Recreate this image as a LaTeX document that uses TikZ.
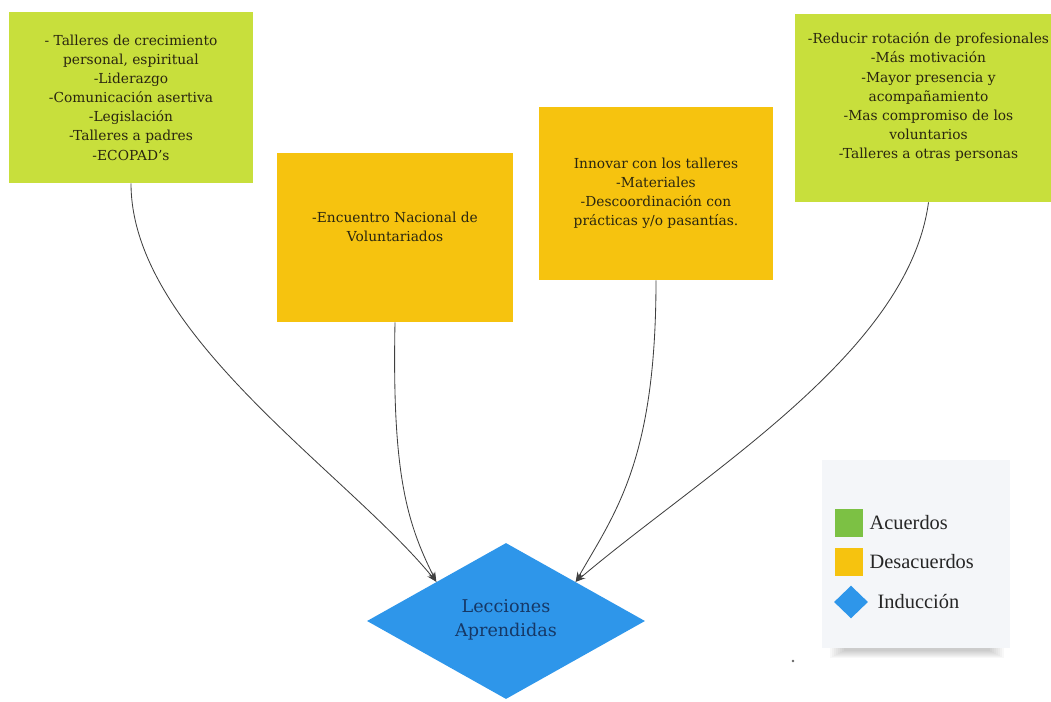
\documentclass[tikz,border=0pt]{standalone}
\usepackage{fontspec}
\setmainfont{DejaVu Serif}
\newfontfamily\leyfont{Liberation Serif}
\usetikzlibrary{shapes.geometric,positioning,arrows.meta}

\definecolor{verdelima}{HTML}{C8DF3C}
\definecolor{naranja}{HTML}{F6C30F}
\definecolor{azul}{HTML}{2E96EA}
\definecolor{verdeley}{HTML}{7CC144}
\definecolor{tarjeta}{HTML}{F4F6F9}
\definecolor{tinta}{HTML}{2A2610}
\definecolor{azultinta}{HTML}{163866}

\tikzset{
  caja/.style={rectangle, draw=none, align=center, text=tinta,
    font=\fontsize{9.8}{13.6}\selectfont},
  acuerdo/.style={caja, fill=verdelima},
  desacuerdo/.style={caja, fill=naranja},
  induccion/.style={diamond, fill=azul, draw=none, inner sep=0pt, align=center,
    text=azultinta, font=\fontsize{12.5}{17}\selectfont},
  flecha/.style={draw=black!75, line width=0.6pt, -{Stealth[length=7pt,width=5pt]}},
  leytext/.style={font=\leyfont\fontsize{14.5}{16}\selectfont, text=black!85, inner sep=1pt},
  leycuadro/.style={rectangle, minimum width=0.7cm, minimum height=0.72cm, inner sep=0pt}
}

\begin{document}
\begin{tikzpicture}[x=0.025cm, y=-0.025cm]
\useasboundingbox (0,0) rectangle (1051,702);

% cajas de arriba
\node[acuerdo, minimum width=6.1cm, minimum height=4.275cm] (talleres) at (131,97.5)
  {- Talleres de crecimiento\\ personal, espiritual\\ -Liderazgo\\ -Comunicaci\'on asertiva\\
   -Legislaci\'on\\ -Talleres a padres\\ -ECOPAD's};
\node[desacuerdo, minimum width=5.9cm, minimum height=4.225cm] (encuentro) at (395,237.5)
  {-Encuentro Nacional de\\ Voluntariados\\[2pt]};
\node[desacuerdo, minimum width=5.85cm, minimum height=4.325cm] (innovar) at (656,193.5)
  {Innovar con los talleres\\ -Materiales\\ -Descoordinaci\'on con\\ pr\'acticas y/o pasant\'ias.};
\node[acuerdo, minimum width=6.675cm, minimum height=4.7cm] (reducir) at (928.5,108)
  {-Reducir rotaci\'on de profesionales\\ -M\'as motivaci\'on\\ -Mayor presencia y\\
   acompa\~namiento\\ -Mas compromiso de los\\ voluntarios\\ -Talleres a otras personas\\[4pt]};

% rombo
\node[induccion, minimum width=6.95cm, minimum height=3.9cm] (lecciones) at (506,621)
  {\mbox{}\\[-10pt]Lecciones\\ Aprendidas};

% conectores
\draw[flecha] (talleres.south) .. controls +(0,150) and +(-90,-110) .. (lecciones.north west);
\draw[flecha] (encuentro.south) .. controls +(-3,150) and +(-30,-60) .. (lecciones.north west);
\draw[flecha] (innovar.south) .. controls +(0,180) and +(40,-70) .. (lecciones.north east);
\draw[flecha] (reducir.south) .. controls +(-20,150) and +(130,-110) .. (lecciones.north east);

% leyenda, con sombra suave
\foreach \s in {0,...,7}
  \fill[black, opacity=0.028] (830+2*\s,470+\s) rectangle (1004-2*\s,658-\s);
\node[rectangle, fill=tarjeta, minimum width=4.7cm, minimum height=4.7cm] (leyenda) at (916,554) {};
\node[leycuadro, fill=verdeley] (cuadroacu) at (849,523) {};
\node[leycuadro, fill=naranja] (cuadrodes) at (849,562) {};
\node[diamond, fill=azul, minimum width=0.85cm, minimum height=0.82cm, inner sep=0pt] (rombodes) at (851,602) {};
\node[leytext, anchor=west] (acuerdos) at (868,523) {Acuerdos};
\node[leytext, anchor=west] (desacuerdos) at (868,562) {Desacuerdos};
\node[leytext, anchor=west] (induccion) at (876,602) {Inducci\'on};

\fill[black!60] (793,661) circle (1.3);
\end{tikzpicture}
\end{document}
